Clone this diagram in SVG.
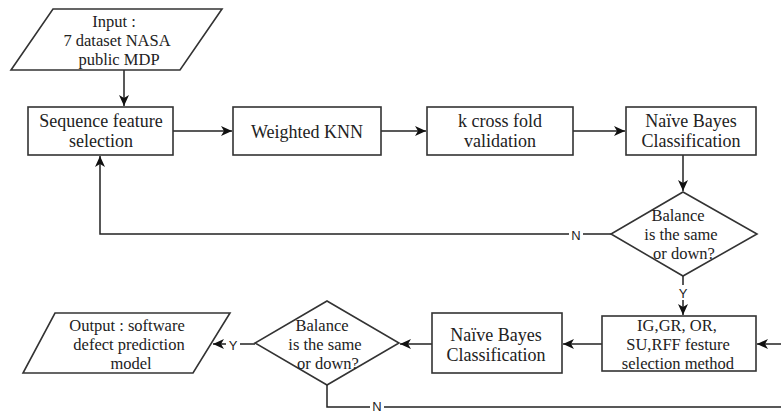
<svg xmlns="http://www.w3.org/2000/svg" width="781" height="414" viewBox="0 0 781 414">
<style>
.box{fill:#fff;stroke:#333;stroke-width:1.6}
.t{font-family:'Liberation Serif','DejaVu Serif',serif;font-size:18px;fill:#222;text-anchor:middle;dominant-baseline:central}
.s{font-size:16.5px}
.c{fill:none;stroke:#222;stroke-width:1.5}
.lbl{font-family:'Liberation Sans','DejaVu Sans',sans-serif;font-size:13px;fill:#222;text-anchor:middle;dominant-baseline:central}
.bg{fill:#fff}
</style>
<defs>
<marker id="ah" markerUnits="userSpaceOnUse" markerWidth="12" markerHeight="10" refX="11" refY="5" orient="auto">
<path d="M0,0 L11,5 L0,10 L3,5 z" fill="#111"/>
</marker>
</defs>
<rect width="781" height="414" fill="#fff"/>
<g id="connectors">
<path class="c" d="M124,70 V106" marker-end="url(#ah)"/>
<path class="c" d="M173,131 H232" marker-end="url(#ah)"/>
<path class="c" d="M381,131 H426" marker-end="url(#ah)"/>
<path class="c" d="M573,131 H625" marker-end="url(#ah)"/>
<path class="c" d="M683,155 V191" marker-end="url(#ah)"/>
<path class="c" d="M611,234 H100 V156" marker-end="url(#ah)"/>
<path class="c" d="M683,276 V315" marker-end="url(#ah)"/>
<path class="c" d="M781,344 H757" marker-end="url(#ah)"/>
<path class="c" d="M602,344 H563" marker-end="url(#ah)"/>
<path class="c" d="M432,344 H400" marker-end="url(#ah)"/>
<path class="c" d="M255,344 H213" marker-end="url(#ah)"/>
<path class="c" d="M327,385 V407 H781"/>
<rect class="bg" x="569" y="227" width="14" height="15"/>
<text class="lbl" x="576" y="235">N</text>
<rect class="bg" x="676" y="285" width="14" height="15"/>
<text class="lbl" x="683" y="293">Y</text>
<rect class="bg" x="226" y="337" width="14" height="15"/>
<text class="lbl" x="233" y="345">Y</text>
<rect class="bg" x="370" y="401" width="14" height="13"/>
<text class="lbl" x="377" y="406">N</text>
</g>
<g id="input">
<polygon class="box" points="53,9 222,9 180,70 11,70"/>
<text class="t s" x="114" y="21">Input :</text>
<text class="t s" x="117" y="40">7 dataset NASA</text>
<text class="t s" x="119" y="59">public MDP</text>
</g>
<g id="seqfs">
<rect class="box" x="28" y="107" width="145" height="48"/>
<text class="t" x="101" y="121">Sequence feature</text>
<text class="t" x="101" y="141">selection</text>
</g>
<g id="wknn">
<rect class="box" x="233" y="107" width="148" height="48"/>
<text class="t" x="307" y="132">Weighted KNN</text>
</g>
<g id="kfold">
<rect class="box" x="427" y="107" width="146" height="48"/>
<text class="t" x="500" y="121">k cross fold</text>
<text class="t" x="500" y="141">validation</text>
</g>
<g id="nb1">
<rect class="box" x="626" y="107" width="130" height="48"/>
<text class="t" x="691" y="121">Naïve Bayes</text>
<text class="t" x="691" y="141">Classification</text>
</g>
<g id="dec1">
<polygon class="box" points="683,192 757,234 683,276 611,234"/>
<text class="t s" x="678" y="215">Balance</text>
<text class="t s" x="681" y="234">is the same</text>
<text class="t s" x="684" y="253">or down?</text>
</g>
<g id="igbox">
<rect class="box" x="602" y="316" width="154" height="55"/>
<text class="t s" x="677" y="325">IG,GR, OR,</text>
<text class="t s" x="678" y="344">SU,RFF festure</text>
<text class="t s" x="678" y="363">selection method</text>
</g>
<g id="nb2">
<rect class="box" x="432" y="313" width="130" height="60"/>
<text class="t" x="496" y="335">Naïve Bayes</text>
<text class="t" x="496" y="355">Classification</text>
</g>
<g id="dec2">
<polygon class="box" points="327,301 399,343 327,385 255,343"/>
<text class="t s" x="322" y="325">Balance</text>
<text class="t s" x="325" y="344">is the same</text>
<text class="t s" x="328" y="363">or down?</text>
</g>
<g id="output">
<polygon class="box" points="55,313 230,313 193,373 23,373"/>
<text class="t s" x="127" y="325">Output : software</text>
<text class="t s" x="129" y="344">defect prediction</text>
<text class="t s" x="131" y="363">model</text>
</g>
</svg>
